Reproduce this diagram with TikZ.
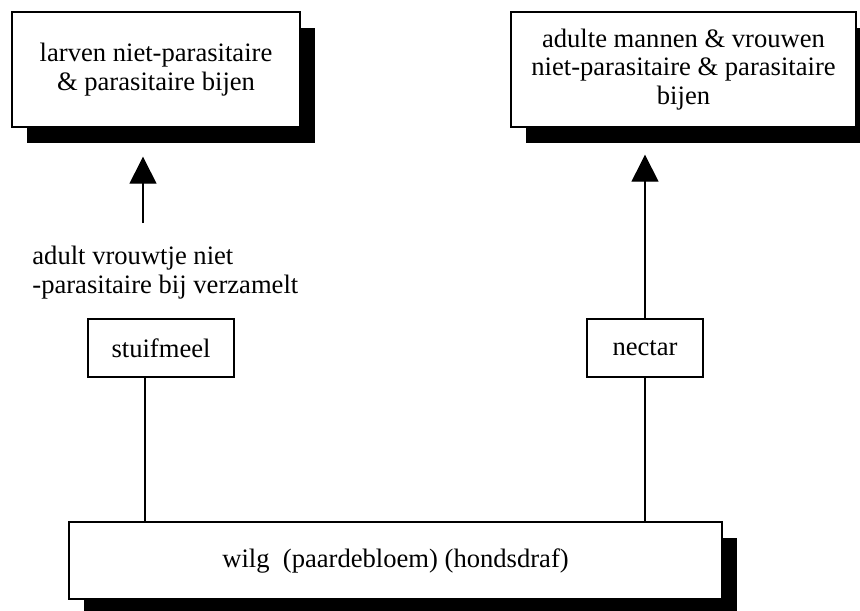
\documentclass[tikz,border=0pt]{standalone}
\usepackage{fontspec}
\setmainfont{Liberation Serif}
\usetikzlibrary{arrows.meta,shadows}

\tikzset{
  kader/.style={draw,line width=0.7pt,fill=white,inner sep=0pt,align=center,font=\fontsize{13.3}{14.3}\selectfont},
  schaduwkader/.style={kader,drop shadow={fill=black,opacity=1,shadow xshift=7.5pt,shadow yshift=-8pt}},
  pijl/.style={line width=0.7pt,-{Triangle[width=13.5pt,length=13.5pt]}},
  lijn/.style={line width=0.7pt}
}

\begin{document}
\begin{tikzpicture}[x=0.5pt,y=-0.5pt]
\useasboundingbox (0,0) rectangle (860,610);
% bijen bovenaan
\node[schaduwkader,minimum width=144pt,minimum height=57.5pt] (larven) at (156,69.5) {larven niet-parasitaire\\\& parasitaire bijen};
\node[schaduwkader,minimum width=172.5pt,minimum height=57.5pt] (adulten) at (683.5,69.5) {adulte mannen \& vrouwen\\niet-parasitaire \& parasitaire\\bijen};
% wat de plant levert
\node[kader,minimum width=73pt,minimum height=29pt] (stuifmeel) at (161,348) {stuifmeel};
\node[kader,minimum width=58pt,minimum height=29pt] (nectar) at (645,348) {nectar};
\node[align=left,inner sep=0pt,anchor=west,font=\fontsize{13.3}{14.5}\selectfont] (verzamelt) at (32,273) {adult vrouwtje niet\\-parasitaire bij verzamelt};
% plant
\node[schaduwkader,minimum width=326.5pt,minimum height=38.5pt] (plant) at (395.5,560.5) {wilg\ \ (paardebloem) (hondsdraf)};
\coordinate (pollenvoet) at (143,223);
\draw[pijl,shorten >=14.5pt] (pollenvoet) -- (pollenvoet |- larven.south);
\draw[pijl,shorten >=13.5pt] (nectar.north) -- (nectar.north |- adulten.south);
\draw[lijn] ([xshift=-8pt]stuifmeel.south) -- ([xshift=-8pt]stuifmeel.south |- plant.north);
\draw[lijn] (nectar.south) -- (nectar.south |- plant.north);
\end{tikzpicture}
\end{document}
